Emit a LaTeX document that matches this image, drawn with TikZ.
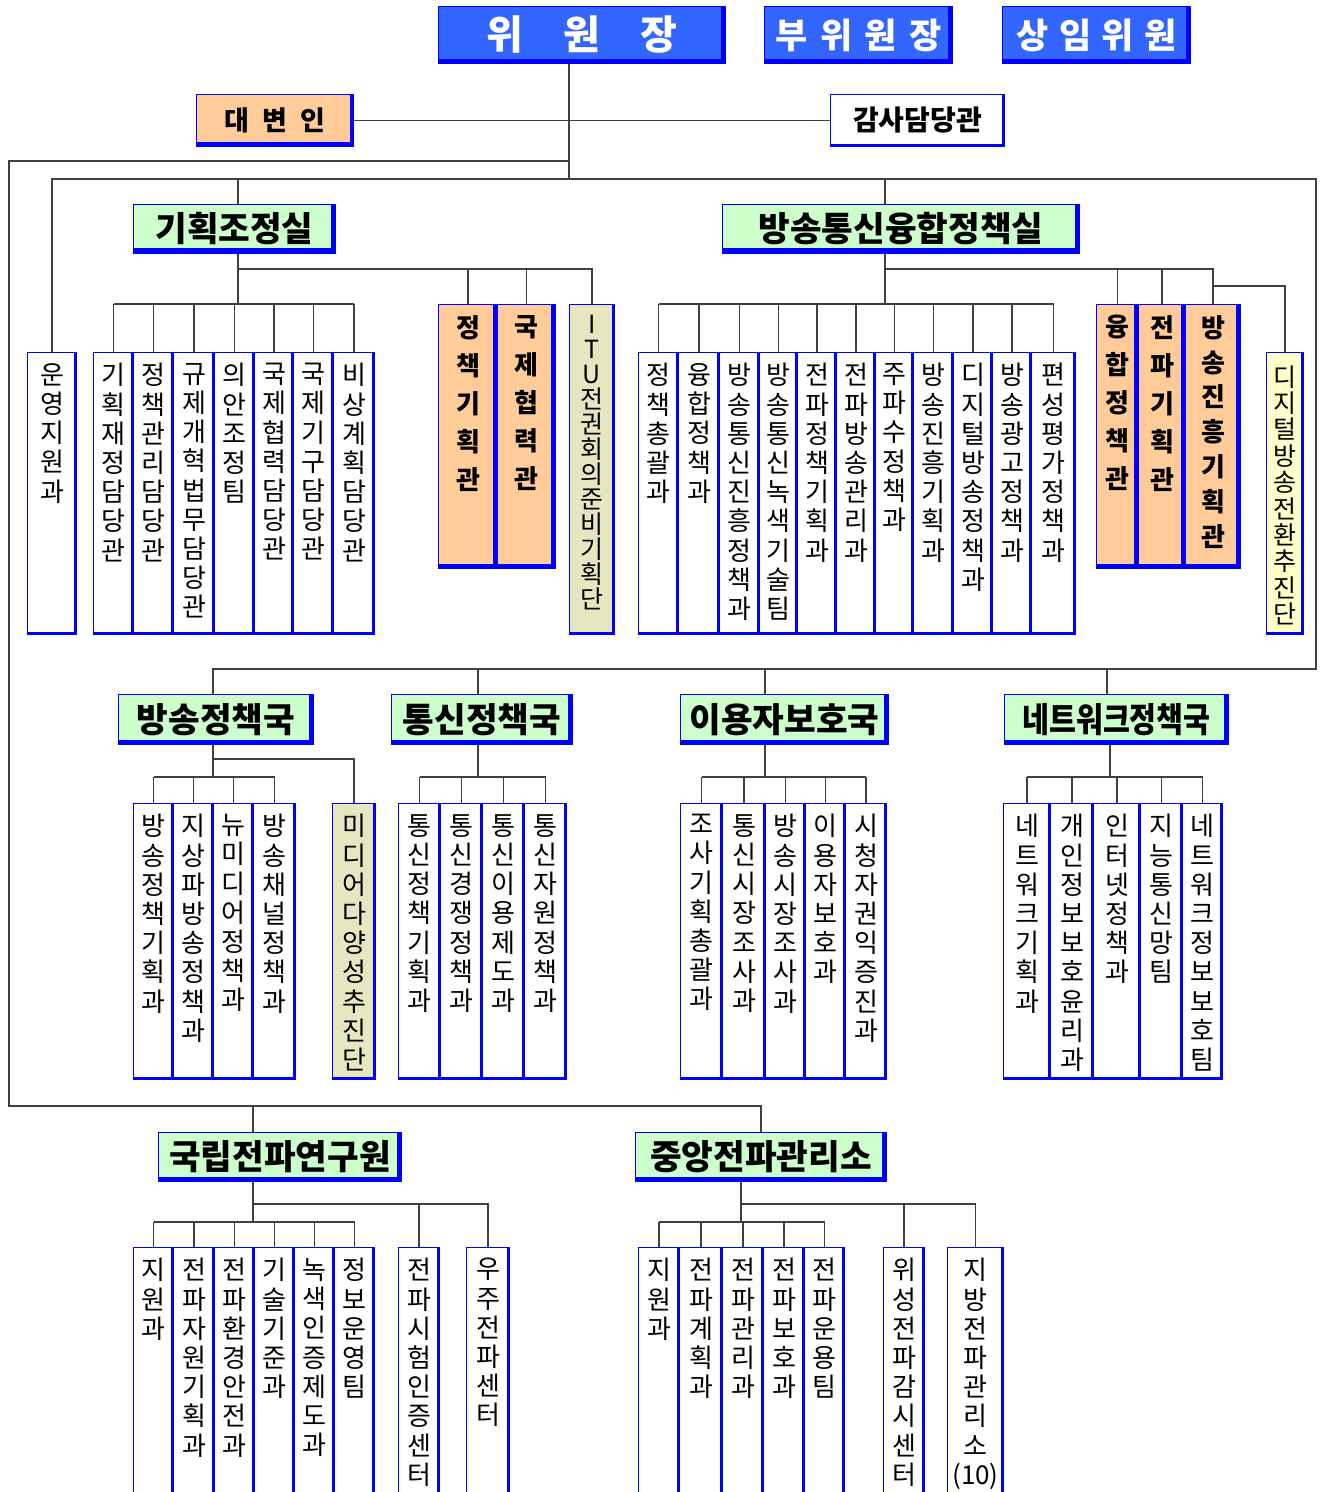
\documentclass[tikz,border=0pt]{standalone}
\usepackage{fontspec}
\setmainfont{Noto Sans CJK KR}
\usepackage{graphicx}
\definecolor{kcblue}{HTML}{0000FF}
\definecolor{kcsky}{HTML}{3366FF}
\definecolor{kcpeach}{HTML}{FFCC99}
\definecolor{kcmint}{HTML}{CCFFCC}
\definecolor{kcsand}{HTML}{E6E6C0}
\definecolor{kccream}{HTML}{FFFFC8}
\definecolor{kcwire}{HTML}{404040}

\begin{document}
\begin{tikzpicture}[
  x=0.5pt, y=-0.5pt,
  wire/.style={draw=kcwire, line width=0.75pt},
  rim/.style={path picture={\draw[kcblue, line width=#1]
    (path picture bounding box.north east) -- (path picture bounding box.south east)
    -- (path picture bounding box.south west);}},
  cell/.style={draw=kcblue, line width=0.5pt, inner sep=0pt, anchor=north west},
  chief/.style={cell, fill=kcsky, rim=4.5pt, text=white, minimum height=28.5pt,
    font=\bfseries\fontsize{17.5}{20}\selectfont},
  aide/.style={cell, rim=3pt, minimum height=26pt,
    font=\bfseries\fontsize{14}{17}\selectfont},
  office/.style={cell, fill=kcmint, rim=5pt,
    font=\bfseries\fontsize{17.2}{20}\selectfont},
  leaf/.style={cell, fill=white, rim=3pt},
  envoy/.style={cell, fill=kcpeach, rim=4.5pt},
  vtext/.style={anchor=north, yshift=-5.5pt, inner sep=0pt, align=center,
    font=\fontsize{13}{14.6}\selectfont},
  vbold/.style={vtext, font=\bfseries\fontsize{13}{19}\selectfont}
]
\useasboundingbox (0,0) rectangle (1323,1492);
\clip (0,0) rectangle (1323,1492);

% commission heads
\node[chief, minimum width=143.5pt, font=\bfseries\fontsize{20}{24}\selectfont]
  (chair) at (438,6) {위\quad 원\quad 장};
\node[chief, minimum width=94pt] (vice) at (764,6)
  {부\hspace{.35em}위\hspace{.35em}원\hspace{.35em}장};
\node[chief, minimum width=94pt] (member) at (1002,6)
  {상\hspace{.3em}임\hspace{.3em}위\hspace{.3em}원};
\node[aide, fill=kcpeach, rim=4pt, minimum width=78.5pt,
  font=\bfseries\fontsize{13.5}{16}\selectfont]
  (spokes) at (196,94) {대\hspace{.5em}변\hspace{.5em}인};
\node[aide, fill=white, rim=2.5pt, minimum width=87pt] (audit) at (830,94) {감사담당관};

% offices and bureaus
\node[office, minimum width=101pt, minimum height=24.5pt] (plan) at (133,204) {기획조정실};
\node[office, minimum width=178.5pt, minimum height=24.5pt] (conv) at (722,204) {방송통신융합정책실};
\node[office, minimum width=97.5pt, minimum height=25pt] (bpol) at (118,694) {방송정책국};
\node[office, minimum width=90.5pt, minimum height=25pt] (tpol) at (391,694) {통신정책국};
\node[office, minimum width=104pt, minimum height=25pt] (user) at (680,694) {이용자보호국};
\node[office, minimum width=112pt, minimum height=25pt] (net) at (1004,694)
  {\scalebox{.85}[1]{네트워크정책국}};
\node[office, minimum width=121.5pt, minimum height=24.5pt] (rra) at (158,1132) {국립전파연구원};
\node[office, minimum width=125.5pt, minimum height=24.5pt] (crmo) at (635,1132) {중앙전파관리소};

% first row of desks
\foreach \nm/\xa/\xb/\txt in {
  ops/27/76/{운\\영\\지\\원\\과},
  ga1/93/133/{기\\획\\재\\정\\담\\당\\관},
  ga2/133/173/{정\\책\\관\\리\\담\\당\\관},
  ga3/173/214/{규\\제\\개\\혁\\법\\무\\담\\당\\관},
  ga4/214/254/{의\\안\\조\\정\\팀},
  ga5/254/293/{국\\제\\협\\력\\담\\당\\관},
  ga6/293/333/{국\\제\\기\\구\\담\\당\\관},
  ga7/333/374/{비\\상\\계\\획\\담\\당\\관},
  gb1/638/678/{정\\책\\총\\괄\\과},
  gb2/678/719/{융\\합\\정\\책\\과},
  gb3/719/759/{방\\송\\통\\신\\진\\흥\\정\\책\\과},
  gb4/759/797/{방\\송\\통\\신\\녹\\색\\기\\술\\팀},
  gb5/797/836/{전\\파\\정\\책\\기\\획\\과},
  gb6/836/875/{전\\파\\방\\송\\관\\리\\과},
  gb7/875/913/{주\\파\\수\\정\\책\\과},
  gb8/913/953/{방\\송\\진\\흥\\기\\획\\과},
  gb9/953/992/{디\\지\\털\\방\\송\\정\\책\\과},
  gb10/992/1031/{방\\송\\광\\고\\정\\책\\과},
  gb11/1031/1075/{편\\성\\평\\가\\정\\책\\과}}
  \node[leaf, minimum width={(\xb-\xa)*0.5pt}, minimum height=141pt,
    label={[vtext]north:{\txt}}] (\nm) at (\xa,352) {};

\foreach \nm/\xa/\xb/\txt in {
  pd1/438/497/{정\\책\\기\\획\\관},
  pd2/497/555/{국\\제\\협\\력\\관},
  pc1/1096/1138/{융\\합\\정\\책\\관},
  pc2/1138/1185/{전\\파\\기\\획\\관}}
  \node[envoy, minimum width={(\xb-\xa)*0.5pt}, minimum height=132pt,
    label={[vbold]north:{\txt}}] (\nm) at (\xa,304) {};
\node[envoy, minimum width=27.5pt, minimum height=132pt,
  label={[vbold, font=\bfseries\fontsize{13}{17.4}\selectfont]north:{방\\송\\진\\흥\\기\\획\\관}}]
  (pc3) at (1185,304) {};
\node[leaf, fill=kcsand, minimum width=22.5pt, minimum height=165pt,
  label={[vtext, font=\fontsize{12.5}{12.5}\selectfont]north:{I\\T\\U\\전\\권\\회\\의\\준\\비\\기\\획\\단}}]
  (itu) at (569,304) {};
\node[leaf, fill=kccream, minimum width=18.5pt, minimum height=141pt,
  label={[vtext, yshift=-1pt, font=\fontsize{12.5}{13.2}\selectfont]north:{디\\지\\털\\방\\송\\전\\환\\추\\진\\단}}]
  (dtv) at (1266,352) {};

% second row of desks
\foreach \nm/\xa/\xb/\txt in {
  bp1/133/173/{방\\송\\정\\책\\기\\획\\과},
  bp2/173/213/{지\\상\\파\\방\\송\\정\\책\\과},
  bp3/213/253/{뉴\\미\\디\\어\\정\\책\\과},
  bp4/253/295/{방\\송\\채\\널\\정\\책\\과},
  tp1/398/440/{통\\신\\정\\책\\기\\획\\과},
  tp2/440/482/{통\\신\\경\\쟁\\정\\책\\과},
  tp3/482/524/{통\\신\\이\\용\\제\\도\\과},
  tp4/524/566/{통\\신\\자\\원\\정\\책\\과},
  up1/680/722/{조\\사\\기\\획\\총\\괄\\과},
  up2/722/765/{통\\신\\시\\장\\조\\사\\과},
  up3/765/805/{방\\송\\시\\장\\조\\사\\과},
  up4/805/845/{이\\용\\자\\보\\호\\과},
  up5/845/886/{시\\청\\자\\권\\익\\증\\진\\과},
  np1/1003/1050/{네\\트\\워\\크\\기\\획\\과},
  np2/1050/1093/{개\\인\\정\\보\\보\\호\\윤\\리\\과},
  np3/1093/1140/{인\\터\\넷\\정\\책\\과},
  np4/1140/1182/{지\\능\\통\\신\\망\\팀},
  np5/1182/1222/{네\\트\\워\\크\\정\\보\\보\\호\\팀}}
  \node[leaf, minimum width={(\xb-\xa)*0.5pt}, minimum height=138pt,
    label={[vtext]north:{\txt}}] (\nm) at (\xa,803) {};
\node[leaf, fill=kcsand, minimum width=21.5pt, minimum height=138pt,
  label={[vtext]north:{미\\디\\어\\다\\양\\성\\추\\진\\단}}] (media) at (332,803) {};

% agencies
\foreach \nm/\xa/\xb/\txt in {
  rl1/133/173/{지\\원\\과},
  rl2/173/214/{전\\파\\자\\원\\기\\획\\과},
  rl3/214/254/{전\\파\\환\\경\\안\\전\\과},
  rl4/254/294/{기\\술\\기\\준\\과},
  rl5/294/334/{녹\\색\\인\\증\\제\\도\\과},
  rl6/334/374/{정\\보\\운\\영\\팀},
  rl7/398/439/{전\\파\\시\\험\\인\\증\\센\\터},
  rl8/466/509/{우\\주\\전\\파\\센\\터},
  cl1/638/679/{지\\원\\과},
  cl2/679/722/{전\\파\\계\\획\\과},
  cl3/722/763/{전\\파\\관\\리\\과},
  cl4/763/804/{전\\파\\보\\호\\과},
  cl5/804/844/{전\\파\\운\\용\\팀},
  cl6/883/924/{위\\성\\전\\파\\감\\시\\센\\터},
  cl7/947/1003/{지\\방\\전\\파\\관\\리\\소\\(10)}}
  \node[leaf, minimum width={(\xb-\xa)*0.5pt}, minimum height=130pt,
    label={[vtext]north:{\txt}}] (\nm) at (\xa,1247) {};

% junctions
\coordinate (trunk) at (569,179);
\coordinate (hook) at (569,161);
\coordinate (eastTop) at (1316,179);
\coordinate (westEnd) at (9,1106);
\coordinate (midBus) at (213,669);
\coordinate (planTop) at (238,179);
\coordinate (convTop) at (885,179);
\coordinate (tpolTop) at (478,669);
\coordinate (userTop) at (765,669);
\coordinate (netTop) at (1107,669);
\coordinate (rraTop) at (253,1106);
\coordinate (planSide) at (238,269);
\coordinate (convSide) at (885,269);
\coordinate (bpolSide) at (213,759);
\coordinate (rraSide) at (253,1204);
\coordinate (crmoSide) at (741,1204);
\path (pc3.north) ++(0,-18) coordinate (dtvSide);
\coordinate (planBus) at (238,304);
\coordinate (convBus) at (885,304);
\coordinate (bpolBus) at (213,777);
\coordinate (tpolBus) at (478,777);
\coordinate (userBus) at (765,777);
\coordinate (netBus) at (1110,777);
\coordinate (rraBus) at (253,1222);
\coordinate (crmoBus) at (741,1222);

\draw[wire] (chair.south -| trunk) -- (trunk);
\draw[wire] (spokes.east) -- (audit.west);
\draw[wire] (ops.north) |- (eastTop) |- (midBus) -- (midBus |- bpol.north);
\draw[wire] (hook) -| (westEnd) -| (crmo.north);
\foreach \c/\h in {planTop/plan, convTop/conv, tpolTop/tpol, userTop/user,
                   netTop/net, rraTop/rra}
  \draw[wire] (\c) -- (\c |- \h.north);
\foreach \bus/\h in {planBus/plan, convBus/conv, bpolBus/bpol, tpolBus/tpol,
                     userBus/user, netBus/net, rraBus/rra, crmoBus/crmo}
  \draw[wire] (\bus |- \h.south) -- (\bus);
\foreach \bus/\grp/\cnt in {planBus/ga/7, convBus/gb/11, bpolBus/bp/4, tpolBus/tp/4,
                            userBus/up/5, netBus/np/5, rraBus/rl/6, crmoBus/cl/5}{
  \draw[wire] (\bus -| \grp1.north) -- (\bus -| \grp\cnt.north);
  \foreach \i in {1,...,\cnt}
    \draw[wire] (\bus -| \grp\i.north) -- (\grp\i.north);
}
\draw[wire] (planSide) -| (itu.north);
\foreach \n in {pd1,pd2} \draw[wire] (planSide -| \n.north) -- (\n.north);
\draw[wire] (convSide) -| (pc3.north);
\foreach \n in {pc1,pc2} \draw[wire] (convSide -| \n.north) -- (\n.north);
\draw[wire] (dtvSide) -| (dtv.north);
\draw[wire] (bpolSide) -| (media.north);
\draw[wire] (rraSide) -| (rl8.north);
\draw[wire] (rraSide -| rl7.north) -- (rl7.north);
\draw[wire] (crmoSide) -| (cl7.north);
\draw[wire] (crmoSide -| cl6.north) -- (cl6.north);
\end{tikzpicture}
\end{document}
